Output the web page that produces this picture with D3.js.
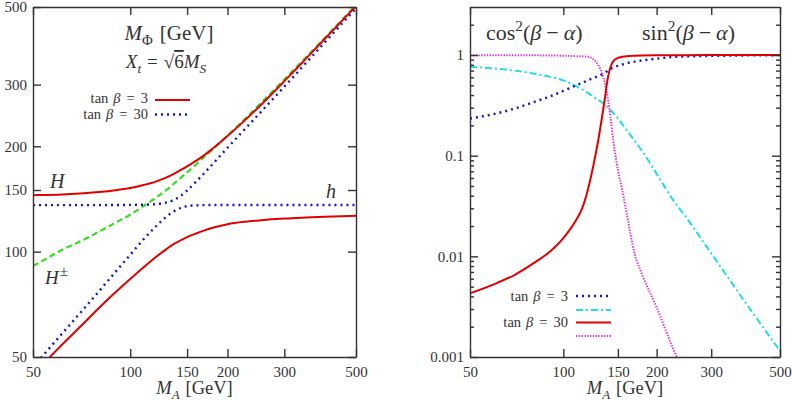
<!DOCTYPE html>
<html lang="en">
<head>
<meta charset="UTF-8">
<title>MSSM Higgs masses and couplings</title>
<script src="https://d3js.org/d3.v7.min.js"></script>
<style>
  body { margin: 0; background: #fff; }
  text { font-family: "Liberation Serif", "DejaVu Serif", serif; fill: #333; }
  .axis path, .axis line { stroke: #333; stroke-width: 1.4; }
  .axis text { font-size: 15px; fill: #333; font-family: "Liberation Serif", "DejaVu Serif", serif; }
</style>
</head>
<body>
<svg id="chart" width="792" height="404"></svg>
<script>
// ---- left panel: Higgs masses vs M_A ----
var maLeft = [50, 55, 60, 70, 80, 90, 100, 110, 120, 125, 130, 135, 140, 145, 150, 160, 170, 180, 200, 225, 250, 300, 350, 400, 450, 500];
// tan beta = 3 (red solid)
var heavy3 = [145, 145.2, 145.5, 146.5, 148, 149.8, 152, 155, 158.5, 160.8, 163.3, 166, 169, 172, 175.2, 182, 189, 197, 214, 236, 259, 307, 356, 405, 454, 503];
var light3 = [44.5, 48.8, 53, 61, 69, 76.5, 83.5, 90.2, 96.5, 99.3, 102, 104.5, 106.5, 108.3, 110, 112.7, 115, 117, 119.8, 121.7, 122.8, 124.3, 125.2, 125.9, 126.3, 126.6];
// charged Higgs (green dashed)
var charged = [91, 95.5, 100, 107, 114, 121, 127.5, 135, 142.5, 146.5, 150.5, 155, 159.5, 164, 168.5, 177.5, 187, 196, 214.5, 238, 262, 310.5, 359, 408, 457, 506];
// tan beta = 30 (blue dotted)
var heavy30 = [135.8, 135.8, 135.8, 135.8, 135.8, 135.9, 136, 136.2, 136.7, 137.3, 138.3, 139.8, 142.3, 145.5, 149.5, 158.5, 168, 178, 198, 222.5, 247, 296, 346, 396, 446, 496];
var light30 = [46.8, 51.8, 56.8, 66.8, 77, 87.5, 98, 108.5, 118, 122.5, 126.3, 129.5, 132, 133.8, 134.9, 135.6, 135.8, 135.9, 135.9, 135.9, 135.9, 135.9, 135.9, 135.9, 135.9, 135.9];

// ---- right panel: couplings vs M_A ----
var maRight = [50, 60, 70, 80, 90, 100, 110, 115, 120, 125, 130, 133, 136, 139, 142, 145, 150, 155, 160, 170, 180, 200, 225, 250, 300, 400, 500];
var sin3 = [0.234, 0.26, 0.295, 0.34, 0.385, 0.44, 0.5, 0.53, 0.56, 0.59, 0.62, 0.64, 0.665, 0.695, 0.73, 0.75, 0.78, 0.805, 0.83, 0.86, 0.885, 0.92, 0.955, 0.968, 0.98, 0.992, 0.997];
var cos3 = [0.765, 0.735, 0.70, 0.655, 0.61, 0.56, 0.49, 0.455, 0.42, 0.385, 0.355, 0.34, 0.32, 0.305, 0.285, 0.265, 0.235, 0.205, 0.18, 0.14, 0.11, 0.066, 0.037, 0.024, 0.0107, 0.003, 0.00115];
var sin30 = [0.0043, 0.0053, 0.0066, 0.0085, 0.011, 0.0152, 0.023, 0.03, 0.046, 0.08, 0.15, 0.23, 0.36, 0.58, 0.76, 0.87, 0.935, 0.96, 0.975, 0.985, 0.99, 0.994, 0.996, 0.997, 0.998, 0.999, 0.999];
var cos30 = [0.995, 0.995, 0.994, 0.993, 0.99, 0.985, 0.975, 0.97, 0.96, 0.91, 0.78, 0.67, 0.53, 0.38, 0.24, 0.14, 0.072, 0.045, 0.027, 0.0105, 0.0065, 0.0031, 0.00125, 0.0006, null, null, null];

var xTicks = [50, 100, 150, 200, 300, 500];
var yTicksLeft = [50, 100, 150, 200, 300, 500];
var yTicksRight = [0.001, 0.01, 0.1, 1];
var yTickLabelsRight = ["0.001", "0.01", "0.1", "1"];

var RED = "#e00000", BLUE = "#1414c0", GREEN = "#33dd22", CYAN = "#22dddd", MAGENTA = "#dd33dd";
var SERIF = "'Liberation Serif', 'DejaVu Serif', serif";

var svg = d3.select("#chart");

// text with italic / sub / sup pieces; dx gives math-like spacing
function rich(g, x, y, parts, fs, anchor) {
  var t = g.append("text").attr("x", x).attr("y", y)
    .attr("font-size", fs).attr("text-anchor", anchor || "start");
  var off = 0;
  parts.forEach(function(p) {
    var target = p.sub ? 0.25 * fs : (p.sup ? -0.4 * fs : 0);
    var ts = t.append("tspan").text(p.t).attr("dy", target - off);
    if (p.dx) ts.attr("dx", p.dx);
    off = target;
    if (p.sub || p.sup) ts.attr("font-size", fs * (p.scale || 0.7));
    if (p.i) ts.attr("font-style", "italic");
    if (p.over) ts.attr("text-decoration", "overline");
  });
  return t;
}

function frame(g, x, y, yTicks, yFmt, yMinor) {
  var top = y.range()[1], bottom = y.range()[0];
  var left = x.range()[0], right = x.range()[1];

  g.append("g").attr("class", "axis").attr("transform", "translate(0," + bottom + ")")
    .call(d3.axisBottom(x).tickValues(xTicks).tickFormat(d3.format("d"))
      .tickSizeInner(-8).tickSizeOuter(0).tickPadding(9))
    .attr("font-family", SERIF).attr("font-size", 15);
  g.append("g").attr("class", "axis").attr("transform", "translate(0," + top + ")")
    .call(d3.axisTop(x).tickValues(xTicks).tickFormat("")
      .tickSizeInner(-8).tickSizeOuter(0));
  g.append("g").attr("class", "axis").attr("transform", "translate(" + left + ",0)")
    .call(d3.axisLeft(y).tickValues(yTicks).tickFormat(yFmt)
      .tickSizeInner(-8).tickSizeOuter(0).tickPadding(6))
    .attr("font-family", SERIF).attr("font-size", 15);
  g.append("g").attr("class", "axis").attr("transform", "translate(" + right + ",0)")
    .call(d3.axisRight(y).tickValues(yTicks).tickFormat("")
      .tickSizeInner(-8).tickSizeOuter(0));

  if (yMinor) {
    g.append("g").attr("class", "axis").attr("transform", "translate(" + left + ",0)")
      .call(d3.axisLeft(y).tickValues(yMinor).tickFormat("").tickSizeInner(-4).tickSizeOuter(0))
      .select(".domain").remove();
    g.append("g").attr("class", "axis").attr("transform", "translate(" + right + ",0)")
      .call(d3.axisRight(y).tickValues(yMinor).tickFormat("").tickSizeInner(-4).tickSizeOuter(0))
      .select(".domain").remove();
  }

  rich(g, (left + right) / 2, 394, [{t: "M", i: true}, {t: "A", i: true, sub: true}, {t: "[GeV]", dx: 6}], 18.5, "middle");
}

function curve(g, xs, ys, x, y, color, width, dash, clipId) {
  var pts = xs.map(function(d, i) { return [d, ys[i]]; });
  var line = d3.line()
    .defined(function(d) { return d[1] != null; })
    .x(function(d) { return x(d[0]); })
    .y(function(d) { return y(d[1]); })
    .curve(d3.curveMonotoneX);
  g.append("path").datum(pts)
    .attr("d", line)
    .attr("fill", "none")
    .attr("stroke", color)
    .attr("stroke-width", width)
    .attr("stroke-dasharray", dash || null)
    .attr("clip-path", "url(#" + clipId + ")");
}

function legendLine(g, x1, x2, yy, color, width, dash) {
  g.append("line").attr("x1", x1).attr("x2", x2).attr("y1", yy).attr("y2", yy)
    .attr("stroke", color).attr("stroke-width", width).attr("stroke-dasharray", dash || null);
}

function tanb(val) {
  return [{t: "tan"}, {t: "β", i: true, dx: 5}, {t: "=", dx: 6}, {t: val, dx: 6}];
}

var DOT = "2,4", FINEDOT = "1.4,1.4", DASH = "6,3.5", DASHDOT = "7,3,2,3";

// ---------- left panel ----------
var xL = d3.scaleLog().domain([50, 500]).range([33, 356]);
var yL = d3.scaleLog().domain([50, 500]).range([357, 7]);
var gL = svg.append("g");

svg.append("clipPath").attr("id", "clipL").append("rect")
  .attr("x", 33).attr("y", 7).attr("width", 323).attr("height", 350);

curve(gL, maLeft, charged, xL, yL, GREEN, 2.2, DASH, "clipL");
curve(gL, maLeft, heavy30, xL, yL, BLUE, 2.4, DOT, "clipL");
curve(gL, maLeft, light30, xL, yL, BLUE, 2.4, DOT, "clipL");
curve(gL, maLeft, heavy3, xL, yL, RED, 2, null, "clipL");
curve(gL, maLeft, light3, xL, yL, RED, 2, null, "clipL");

frame(gL, xL, yL, yTicksLeft, d3.format("d"), null);

rich(gL, 169, 40, [{t: "M", i: true}, {t: "Φ", sub: true}, {t: "[GeV]", dx: 7}], 21, "middle");
rich(gL, 166, 68, [{t: "X", i: true}, {t: "t", i: true, sub: true}, {t: "=", dx: 6}, {t: "√", dx: 6}, {t: "6", over: true}, {t: "M", i: true}, {t: "S", i: true, sub: true}], 19, "middle");

rich(gL, 148, 102.5, tanb("3"), 14.5, "end");
rich(gL, 148, 118.5, tanb("30"), 14.5, "end");
legendLine(gL, 155, 190, 100, RED, 2, null);
legendLine(gL, 155, 190, 114.5, BLUE, 2.4, DOT);

rich(gL, 50, 188, [{t: "H", i: true}], 20, "start");
rich(gL, 326, 198, [{t: "h", i: true}], 20, "start");
rich(gL, 45, 284, [{t: "H", i: true}, {t: "±", sup: true, scale: 0.8, dx: 1}], 19, "start");

// ---------- right panel ----------
var xR = d3.scaleLog().domain([50, 500]).range([470, 780]);
var yR = d3.scaleLog().domain([0.001, 3]).range([357, 7]);
var gR = svg.append("g");

svg.append("clipPath").attr("id", "clipR").append("rect")
  .attr("x", 470).attr("y", 7).attr("width", 310).attr("height", 350);

curve(gR, maRight, cos3, xR, yR, CYAN, 2, DASHDOT, "clipR");
curve(gR, maRight, cos30, xR, yR, MAGENTA, 2, FINEDOT, "clipR");
curve(gR, maRight, sin3, xR, yR, BLUE, 2.4, DOT, "clipR");
curve(gR, maRight, sin30, xR, yR, RED, 2, null, "clipR");

var minor = [];
[0.001, 0.01, 0.1].forEach(function(d) {
  for (var k = 2; k <= 9; k++) minor.push(d * k);
});
minor.push(2);

frame(gR, xR, yR, yTicksRight, function(d, i) { return yTickLabelsRight[i]; }, minor);

function trig(name) {
  return [{t: name}, {t: "2", sup: true}, {t: "("}, {t: "β", i: true}, {t: "−", dx: 5}, {t: "α", i: true, dx: 5}, {t: ")"}];
}
rich(gR, 486, 40, trig("cos"), 22, "start");
rich(gR, 642, 40, trig("sin"), 22, "start");

rich(gR, 568, 301, tanb("3"), 14.5, "end");
rich(gR, 568, 327, tanb("30"), 14.5, "end");
legendLine(gR, 576, 611, 296, BLUE, 2.4, DOT);
legendLine(gR, 576, 611, 310, CYAN, 2, DASHDOT);
legendLine(gR, 576, 611, 322.5, RED, 2, null);
legendLine(gR, 576, 611, 336, MAGENTA, 2, FINEDOT);
</script>
</body>
</html>
